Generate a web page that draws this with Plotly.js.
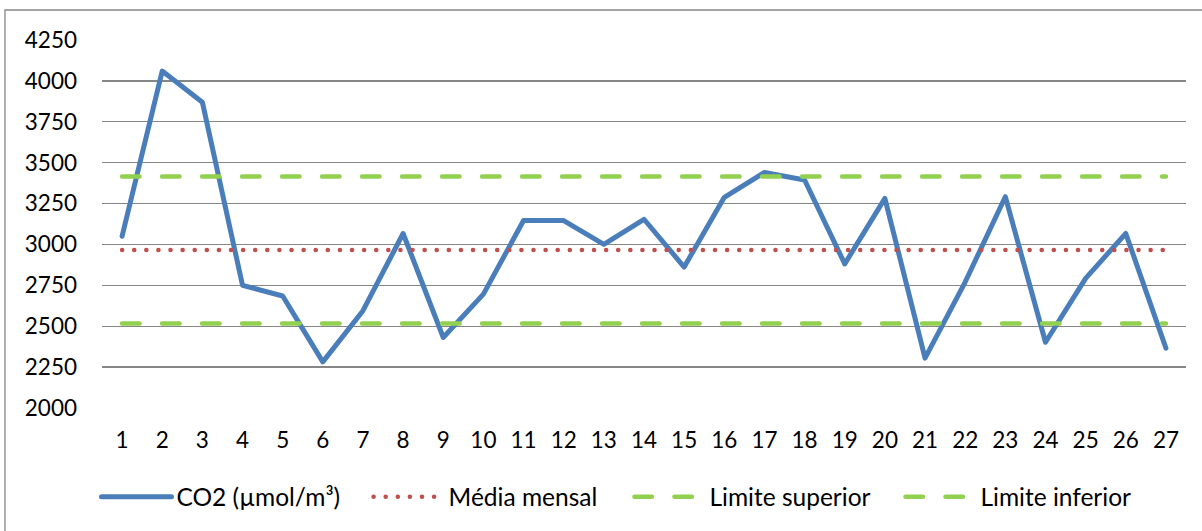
<!DOCTYPE html>
<html>
<head>
<meta charset="utf-8">
<script src="https://cdn.plot.ly/plotly-3.0.1.min.js"></script>
<style>
  html, body { margin: 0; padding: 0; background: #fff; }
  #chart { width: 1202px; height: 531px; }
  /* rounded ends for the dotted and dashed reference lines */
  .js-line { stroke-linecap: round; stroke-linejoin: round; }
</style>
</head>
<body>
<div id="chart"></div>
<script>
// Daily CO2 readings for the month (µmol/m³)
const dias = [1, 2, 3, 4, 5, 6, 7, 8, 9, 10, 11, 12, 13, 14, 15, 16, 17, 18, 19, 20, 21, 22, 23, 24, 25, 26, 27];
const co2 = [3050, 4060, 3870, 2750, 2685, 2282, 2595, 3067, 2431, 2696, 3146, 3146, 3001, 3154,
             2862, 3288, 3440, 3394, 2881, 3282, 2305, 2770, 3292, 2402, 2793, 3067, 2366];

// Reference levels
const mediaMensal = 2966;
const limiteSuperior = 3415;
const limiteInferior = 2517;

const yTicks = [2000, 2250, 2500, 2750, 3000, 3250, 3500, 3750, 4000, 4250];

const constante = v => dias.map(() => v);

const FONT = 'Lato, "Open Sans", sans-serif';
const BLUE = '#4A7EBB';
const RED = '#C0504D';
const GREEN = '#92D050';

const traces = [
  {
    x: dias, y: co2, name: 'CO2 (µmol/m³)', type: 'scatter', mode: 'lines',
    line: { color: BLUE, width: 5 }, legend: 'legend'
  },
  {
    x: dias, y: constante(mediaMensal), name: 'Média mensal', type: 'scatter', mode: 'lines',
    line: { color: RED, width: 4.5, dash: '0.1px,12px' }, legend: 'legend2'
  },
  {
    x: dias, y: constante(limiteSuperior), name: 'Limite superior', type: 'scatter', mode: 'lines',
    line: { color: GREEN, width: 4.5, dash: '17.5px,22.5px' }, legend: 'legend3'
  },
  {
    x: dias, y: constante(limiteInferior), name: 'Limite inferior', type: 'scatter', mode: 'lines',
    line: { color: GREEN, width: 4.5, dash: '17.5px,22.5px' }, legend: 'legend4'
  }
];

// one single-entry legend per series, laid out in a row under the axis
const legendBase = x => ({
  orientation: 'h',
  x: x, xanchor: 'left',
  y: -0.18, yanchor: 'top',
  itemwidth: 70,
  font: { family: FONT, size: 24.5, color: '#000' },
  bgcolor: 'rgba(0,0,0,0)'
});

const layout = {
  width: 1202, height: 531,
  margin: { l: 102, r: 16, t: 40, b: 123, autoexpand: false },
  paper_bgcolor: '#fff', plot_bgcolor: '#fff',
  font: { family: FONT, size: 22, color: '#000' },
  showlegend: true,
  hovermode: false,
  xaxis: {
    range: [0.5, 27.5],
    tickmode: 'array', tickvals: dias, ticktext: dias.map(String),
    showgrid: false, zeroline: false, showline: false, ticks: '',
    ticklabelstandoff: 16,
    tickfont: { family: FONT, size: 22.5, color: '#000' }
  },
  yaxis: {
    range: [2000, 4250],
    tickmode: 'array', tickvals: yTicks, ticktext: yTicks.map(String),
    showgrid: true, gridcolor: '#868686', gridwidth: 1.3,
    zeroline: false, showline: false, ticks: '',
    ticklabelstandoff: 24,
    tickfont: { family: FONT, size: 22.5, color: '#000' }
  },
  legend: legendBase(-0.0051),
  legend2: legendBase(0.2459),
  legend3: legendBase(0.4866),
  legend4: legendBase(0.7366),
  shapes: [
    {
      type: 'rect', xref: 'paper', yref: 'paper',
      x0: -0.0895, x1: 1.05, y0: -0.4, y1: 1.0815,
      line: { color: '#868686', width: 1.3 }, fillcolor: 'rgba(0,0,0,0)', layer: 'below'
    }
  ]
};

Plotly.newPlot('chart', traces, layout, { staticPlot: true, displayModeBar: false });
</script>
</body>
</html>
